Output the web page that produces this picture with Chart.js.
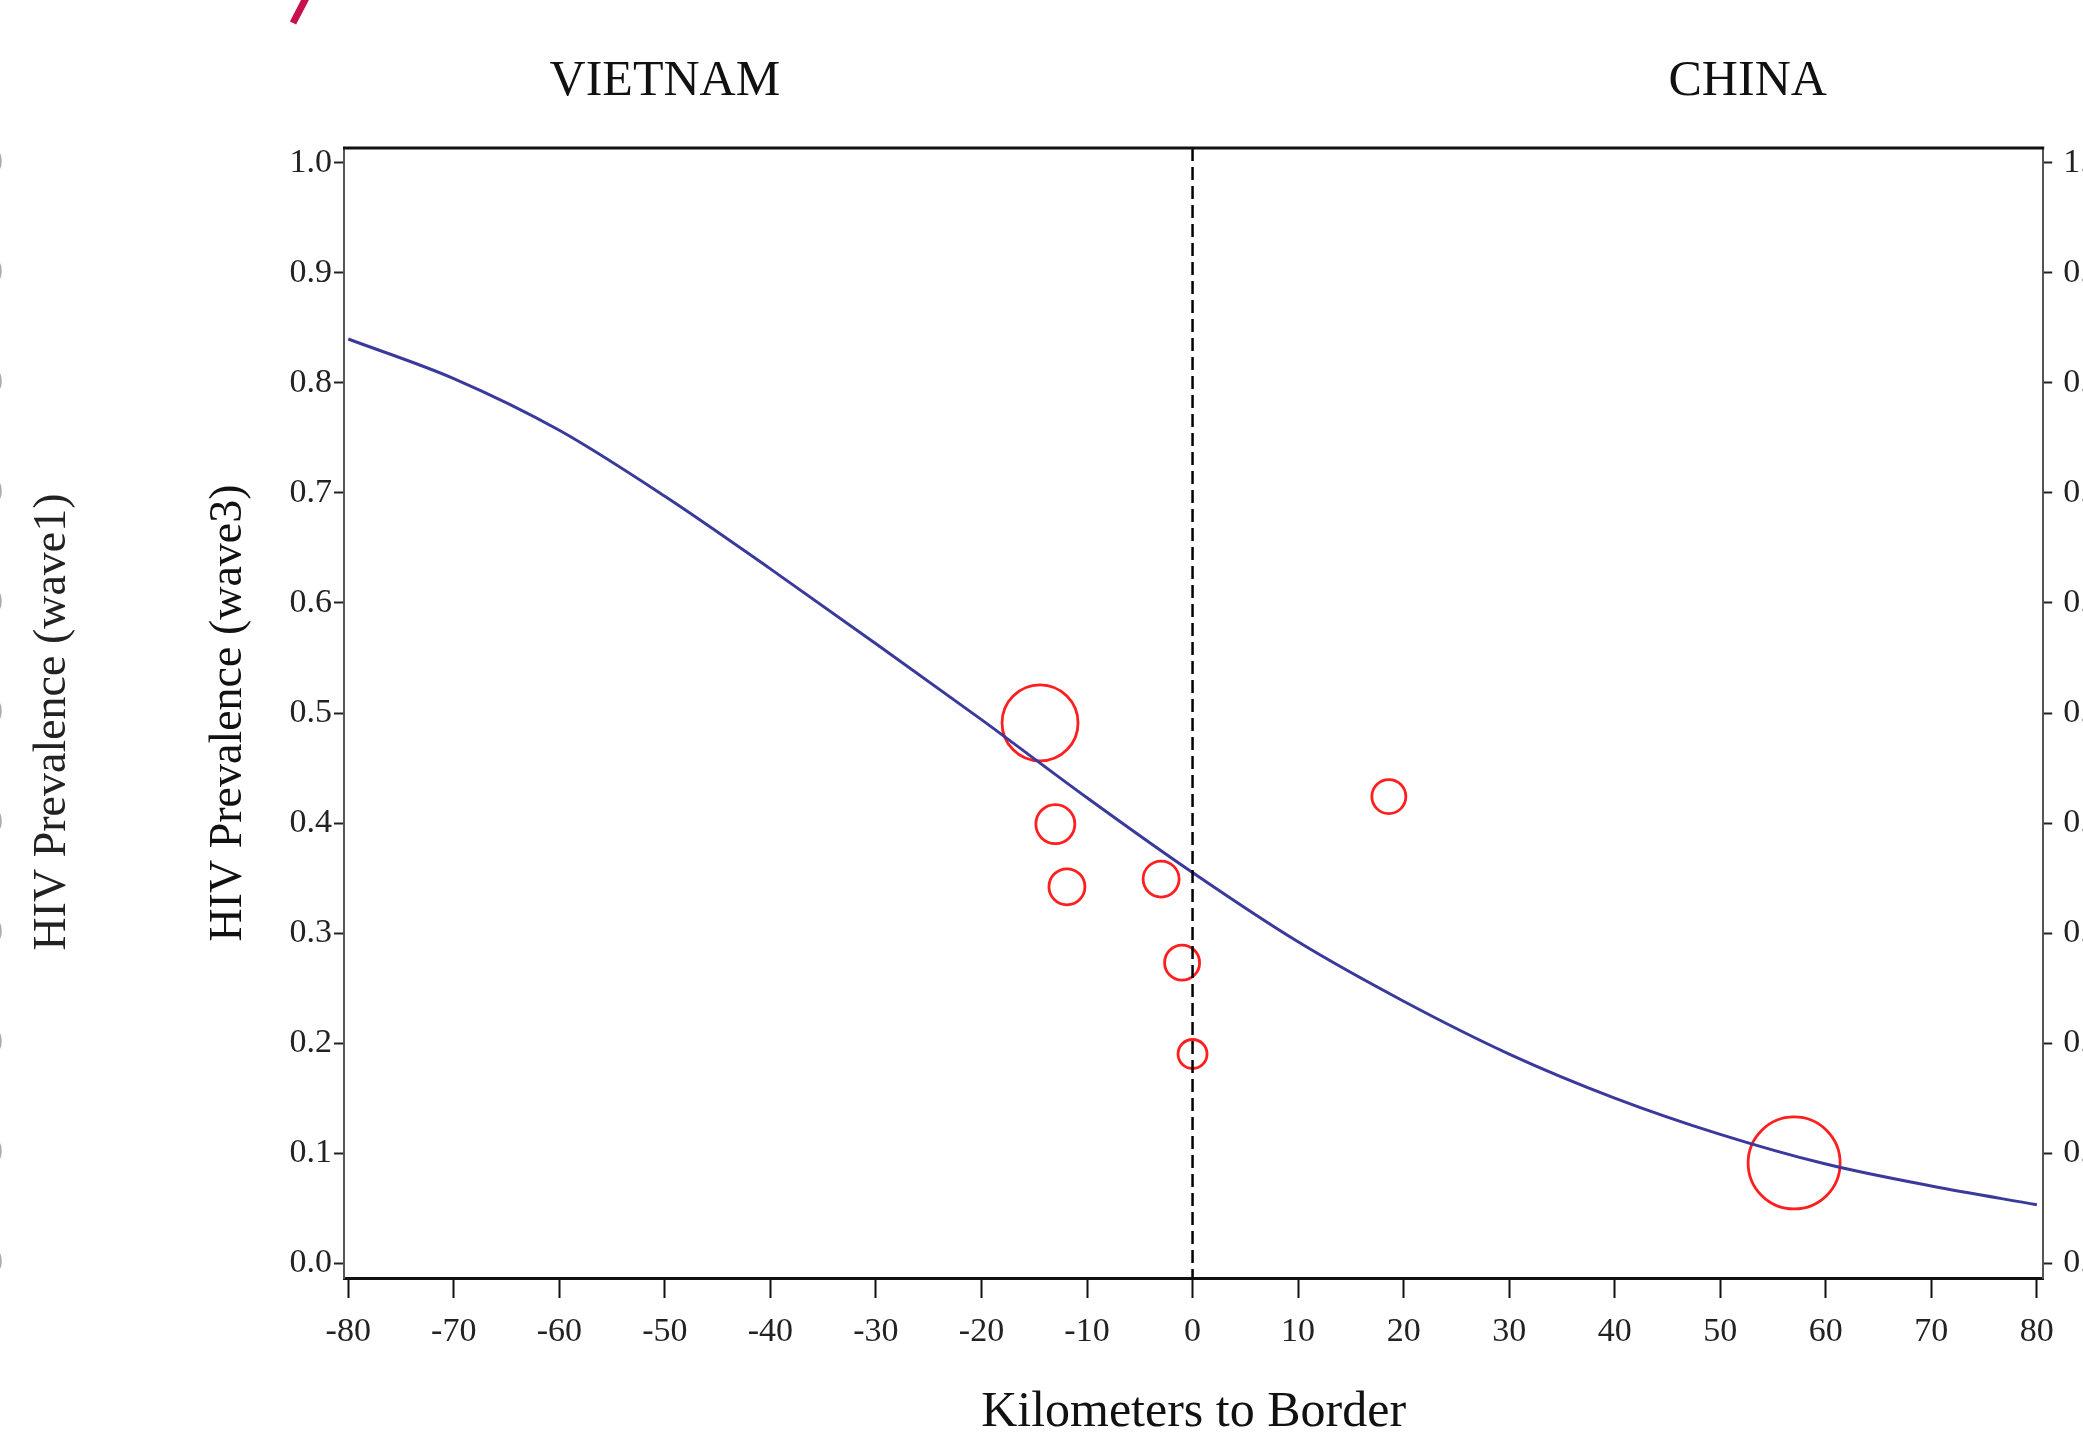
<!DOCTYPE html>
<html>
<head>
<meta charset="utf-8">
<script src="https://cdn.jsdelivr.net/npm/chart.js@4.4.1/dist/chart.umd.min.js"></script>
<style>
  html, body { margin: 0; background: #fff; overflow: hidden; }
  canvas { display: block; }
</style>
</head>
<body>
<!-- a few px wider than the window: the scanned figure is cropped on the right -->
<canvas id="myChart" width="2092" height="1432"></canvas>
<script>
const ctx = document.getElementById('myChart').getContext('2d');

// fitted curve, every 10 km
const curveKm = [-80, -70, -60, -50, -40, -30, -20, -10, 0, 10, 20, 30, 40, 50, 60, 70, 80];
const curvePrev = [0.840, 0.804, 0.757, 0.697, 0.631, 0.563, 0.494, 0.423, 0.355, 0.292, 0.238, 0.190, 0.150, 0.117, 0.090, 0.070, 0.053];

// observed sites (circles)
const siteKm = [-14.45, -13.0, -11.9, -2.98, -0.99, 0.0, 18.6, 57.0];
const sitePrev = [0.491, 0.399, 0.342, 0.349, 0.273, 0.190, 0.424, 0.091];
const siteRadius = [38, 19.5, 18, 18, 17.5, 14.5, 17, 46];

// ticks
const xTicks = [-80, -70, -60, -50, -40, -30, -20, -10, 0, 10, 20, 30, 40, 50, 60, 70, 80];
const yTicks = [0.0, 0.1, 0.2, 0.3, 0.4, 0.5, 0.6, 0.7, 0.8, 0.9, 1.0];

// country labels over the plot
const regionNames = ['VIETNAM', 'CHINA'];
const regionKm = [-50, 52.6];

const serif = 'Liberation Serif';

const setTicks = (vals) => (scale) => {
    scale.ticks = vals.map(v => ({ value: v }));
};

const extras = {
    id: 'extras',
    afterDraw(chart) {
        const c = chart.ctx;
        const area = chart.chartArea;
        const x = chart.scales.x;
        c.save();

        // dashed border line at 0 km
        c.strokeStyle = '#000';
        c.lineWidth = 2.5;
        c.setLineDash([13, 6]);
        c.beginPath();
        c.moveTo(x.getPixelForValue(0), area.top);
        c.lineTo(x.getPixelForValue(0), area.bottom);
        c.stroke();
        c.setLineDash([]);

        // top frame
        c.lineWidth = 3;
        c.strokeStyle = '#111';
        c.beginPath();
        c.moveTo(area.left - 1, area.top);
        c.lineTo(area.right + 1, area.top);
        c.stroke();

        // country names
        c.fillStyle = '#111';
        c.font = '50px "' + serif + '"';
        c.textAlign = 'center';
        c.textBaseline = 'middle';
        regionNames.forEach((n, i) => {
            c.fillText(n, x.getPixelForValue(regionKm[i]), 82);
        });

        // second panel's axis title, cut by the crop
        c.save();
        c.translate(53, 722);
        c.rotate(-Math.PI / 2);
        c.font = '46px "' + serif + '"';
        c.fillStyle = '#222';
        c.fillText('HIV Prevalence (wave1)', 0, 0);
        c.restore();

        // slivers of the neighbouring tick labels at the left edge
        const y = chart.scales.y;
        c.font = '34px "' + serif + '"';
        c.fillStyle = '#aaa';
        c.textAlign = 'right';
        yTicks.forEach(v => c.fillText('0', 3, y.getPixelForValue(v)));

        // red pen stroke at the top
        c.strokeStyle = '#c8104f';
        c.lineWidth = 7;
        c.beginPath();
        c.moveTo(306, -2);
        c.lineTo(293, 23);
        c.stroke();

        c.restore();
    }
};

const data = {
    datasets: [
        {
            type: 'line',
            label: 'Fitted',
            data: curveKm.map((k, i) => ({ x: k, y: curvePrev[i] })),
            borderColor: '#3a3a9c',
            borderWidth: 3,
            pointRadius: 0,
            cubicInterpolationMode: 'monotone',
            fill: false,
        },
        {
            type: 'bubble',
            label: 'Sites',
            data: siteKm.map((k, i) => ({ x: k, y: sitePrev[i], r: siteRadius[i] })),
            backgroundColor: 'rgba(0,0,0,0)',
            borderColor: '#ff1f1f',
            borderWidth: 2.8,
        },
    ],
};

const config = {
    data: data,
    options: {
        responsive: false,
        animation: false,
        devicePixelRatio: 1,
        layout: { padding: { top: 148, left: 0, right: 0, bottom: 0 } },
        plugins: {
            legend: { display: false },
            tooltip: { enabled: false },
        },
        scales: {
            x: {
                type: 'linear',
                position: 'bottom',
                min: -80.4,
                max: 80.6,
                afterBuildTicks: setTicks(xTicks),
                afterFit: (s) => {
                    s.height = 154;
                    s.paddingLeft = 0;
                    s.paddingRight = 0;
                },
                grid: { drawOnChartArea: false, tickLength: 20, tickColor: '#111', tickWidth: 2 },
                border: { color: '#111', width: 3 },
                ticks: {
                    color: '#222',
                    padding: 14,
                    maxRotation: 0,
                    font: { family: serif, size: 34 },
                    callback: (v) => String(v),
                },
                title: {
                    display: true,
                    text: 'Kilometers to Border',
                    color: '#111',
                    font: { family: serif, size: 50, lineHeight: 1 },
                    padding: { top: 0, bottom: -6 },
                },
            },
            y: {
                type: 'linear',
                position: 'left',
                min: -0.0136,
                max: 1.0136,
                afterBuildTicks: setTicks(yTicks),
                afterFit: (s) => { s.width = 344; },
                grid: { drawOnChartArea: false, tickLength: 10, tickColor: '#222', tickWidth: 2 },
                border: { color: '#555', width: 2 },
                ticks: {
                    color: '#222',
                    padding: 2,
                    font: { family: serif, size: 34 },
                    callback: (v) => v.toFixed(1),
                },
                title: {
                    display: true,
                    text: 'HIV Prevalence (wave3)',
                    color: '#111',
                    font: { family: serif, size: 46, lineHeight: 1.2 },
                    padding: { top: 201, bottom: 0 },
                },
            },
            y2: {
                type: 'linear',
                position: 'right',
                min: -0.0136,
                max: 1.0136,
                afterBuildTicks: setTicks(yTicks),
                afterFit: (s) => { s.width = 40; },
                grid: { drawOnChartArea: false, tickLength: 9, tickColor: '#222', tickWidth: 2 },
                border: { color: '#555', width: 2 },
                ticks: {
                    color: '#222',
                    padding: 11,
                    font: { family: serif, size: 34 },
                    callback: (v) => v.toFixed(1),
                },
            },
        },
    },
    plugins: [extras],
};

const myChart = new Chart(ctx, config);
</script>
</body>
</html>
